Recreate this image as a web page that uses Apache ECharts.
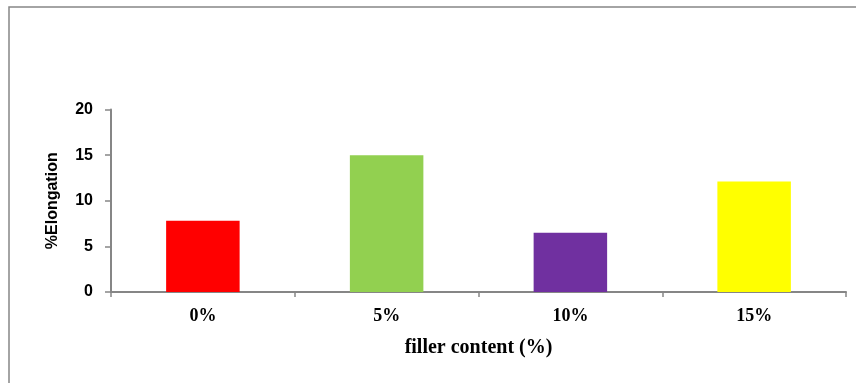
<!DOCTYPE html>
<html>
<head>
<meta charset="utf-8">
<style>
  html, body { margin: 0; padding: 0; background: #fff; }
  #chart { width: 856px; height: 383px; }
</style>
<script src="https://cdn.jsdelivr.net/npm/echarts@6/dist/echarts.min.js"></script>
</head>
<body>
<div id="chart"></div>
<script>
// Elongation at break for each filler loading
const categories = ['0%', '5%', '10%', '15%'];
const elongation = [7.8, 15.0, 6.5, 12.1];
const barColors = ['#ff0000', '#92d050', '#7030a0', '#ffff00'];
const yTicks = [0, 5, 10, 15, 20];

const axisGray = '#868686';

const chart = echarts.init(document.getElementById('chart'), null, { renderer: 'canvas' });
chart.setOption({
  animation: false,
  backgroundColor: '#ffffff',
  graphic: [{
    type: 'rect',
    shape: { x: 9, y: 7, width: 900, height: 500 },
    style: { fill: 'none', stroke: axisGray, lineWidth: 1.5 },
    silent: true
  }],
  grid: { left: 111, right: 10, top: 109.5, bottom: 91, containLabel: false },
  xAxis: {
    type: 'category',
    data: categories,
    name: 'filler content (%)',
    nameLocation: 'middle',
    nameGap: 46,
    nameTextStyle: { fontFamily: 'Liberation Serif', fontWeight: 'bold', fontSize: 20, color: '#000' },
    axisLine: { lineStyle: { color: axisGray, width: 2 } },
    axisTick: { show: true, alignWithLabel: false, length: 5, lineStyle: { color: axisGray, width: 1.5 } },
    axisLabel: { fontFamily: 'Liberation Serif', fontWeight: 'bold', fontSize: 18, color: '#000', margin: 15 }
  },
  yAxis: {
    type: 'value',
    min: yTicks[0],
    max: yTicks[yTicks.length - 1],
    interval: yTicks[1] - yTicks[0],
    name: '%Elongation',
    nameLocation: 'middle',
    nameRotate: 90,
    nameGap: 50,
    nameTextStyle: { fontFamily: 'Liberation Sans', fontWeight: 'bold', fontSize: 16, color: '#000' },
    axisLine: { show: true, lineStyle: { color: axisGray, width: 2 } },
    axisTick: { show: true, length: 6, lineStyle: { color: axisGray, width: 1.5 } },
    splitLine: { show: false },
    axisLabel: { fontFamily: 'Liberation Sans', fontWeight: 'bold', fontSize: 16, color: '#000', margin: 18 }
  },
  series: [{
    type: 'bar',
    barWidth: '40%',
    data: elongation.map((v, i) => ({ value: v, itemStyle: { color: barColors[i] } }))
  }]
});
</script>
</body>
</html>
